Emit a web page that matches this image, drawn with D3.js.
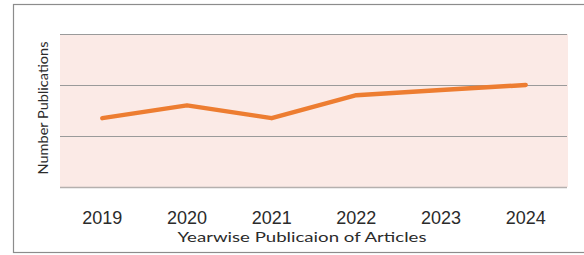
<!DOCTYPE html>
<html>
<head>
<meta charset="utf-8">
<script src="https://cdn.jsdelivr.net/npm/d3@7"></script>
<style>
  body { margin: 0; background: #fff; }
  svg { display: block; font-family: Lato, "Open Sans", sans-serif; }
</style>
</head>
<body>
<svg id="chart" width="584" height="255"></svg>
<script>
// chart data
const years = ["2019", "2020", "2021", "2022", "2023", "2024"];
const publications = [13.5, 16, 13.5, 18, 19, 20];
const gridValues = [0, 10, 20, 30];
const xTitle = "Yearwise Publicaion of Articles";
const yTitle = "Number Publications";

const svg = d3.select("#chart");

// plot region
const plot = { left: 60, right: 568, top: 34, bottom: 187 };

// outer frame (right edge runs off the picture)
svg.append("rect")
    .attr("x", 13.5).attr("y", 4.5)
    .attr("width", 620).attr("height", 248)
    .attr("fill", "none")
    .attr("stroke", "#8c8c8c")
    .attr("stroke-width", 1.2);

let x = d3.scaleBand()
    .domain(years)
    .range([plot.left, plot.right])
    .padding(0);

let y = d3.scaleLinear()
    .domain([0, 30])
    .range([plot.bottom, plot.top]);

// pink background
svg.append("rect")
    .attr("x", plot.left).attr("y", plot.top)
    .attr("width", plot.right - plot.left)
    .attr("height", plot.bottom - plot.top)
    .attr("fill", "#fbeae6");

// horizontal gridlines
svg.append("g")
    .selectAll("line")
    .data(gridValues)
    .enter()
    .append("line")
    .attr("x1", plot.left)
    .attr("x2", plot.right - 1)
    .attr("y1", d => Math.round(y(d)) + 0.5)
    .attr("y2", d => Math.round(y(d)) + 0.5)
    .attr("stroke", d => d === 0 ? "#b5b0ae" : "#9a9a9a")
    .attr("stroke-width", d => d === 0 ? 1.6 : 1.1);

// x axis labels
let xAxis = d3.axisBottom(x).tickSize(0).tickPadding(0);
let gx = svg.append("g")
    .attr("transform", "translate(0," + 224 + ")")
    .call(xAxis);
gx.select(".domain").remove();
gx.selectAll("text")
    .attr("dy", 0)
    .attr("y", 0)
    .style("font-size", "18px")
    .style("fill", "#2b2b2b");

// the line
let line = d3.line()
    .x((d, i) => x(years[i]) + x.bandwidth() / 2)
    .y(d => y(d));

svg.append("path")
    .datum(publications)
    .attr("d", line)
    .attr("fill", "none")
    .attr("stroke", "#ed7d31")
    .attr("stroke-width", 4.5)
    .attr("stroke-linecap", "round")
    .attr("stroke-linejoin", "round");

// axis titles
svg.append("text")
    .attr("x", 302)
    .attr("y", 242)
    .attr("text-anchor", "middle")
    .attr("textLength", 249)
    .attr("lengthAdjust", "spacingAndGlyphs")
    .style("font-size", "14px")
    .style("fill", "#2b2b2b")
    .text(xTitle);

svg.append("text")
    .attr("transform", "translate(48,108) rotate(-90)")
    .attr("text-anchor", "middle")
    .attr("textLength", 133)
    .attr("lengthAdjust", "spacingAndGlyphs")
    .style("font-size", "14px")
    .style("fill", "#2b2b2b")
    .text(yTitle);
</script>
</body>
</html>
